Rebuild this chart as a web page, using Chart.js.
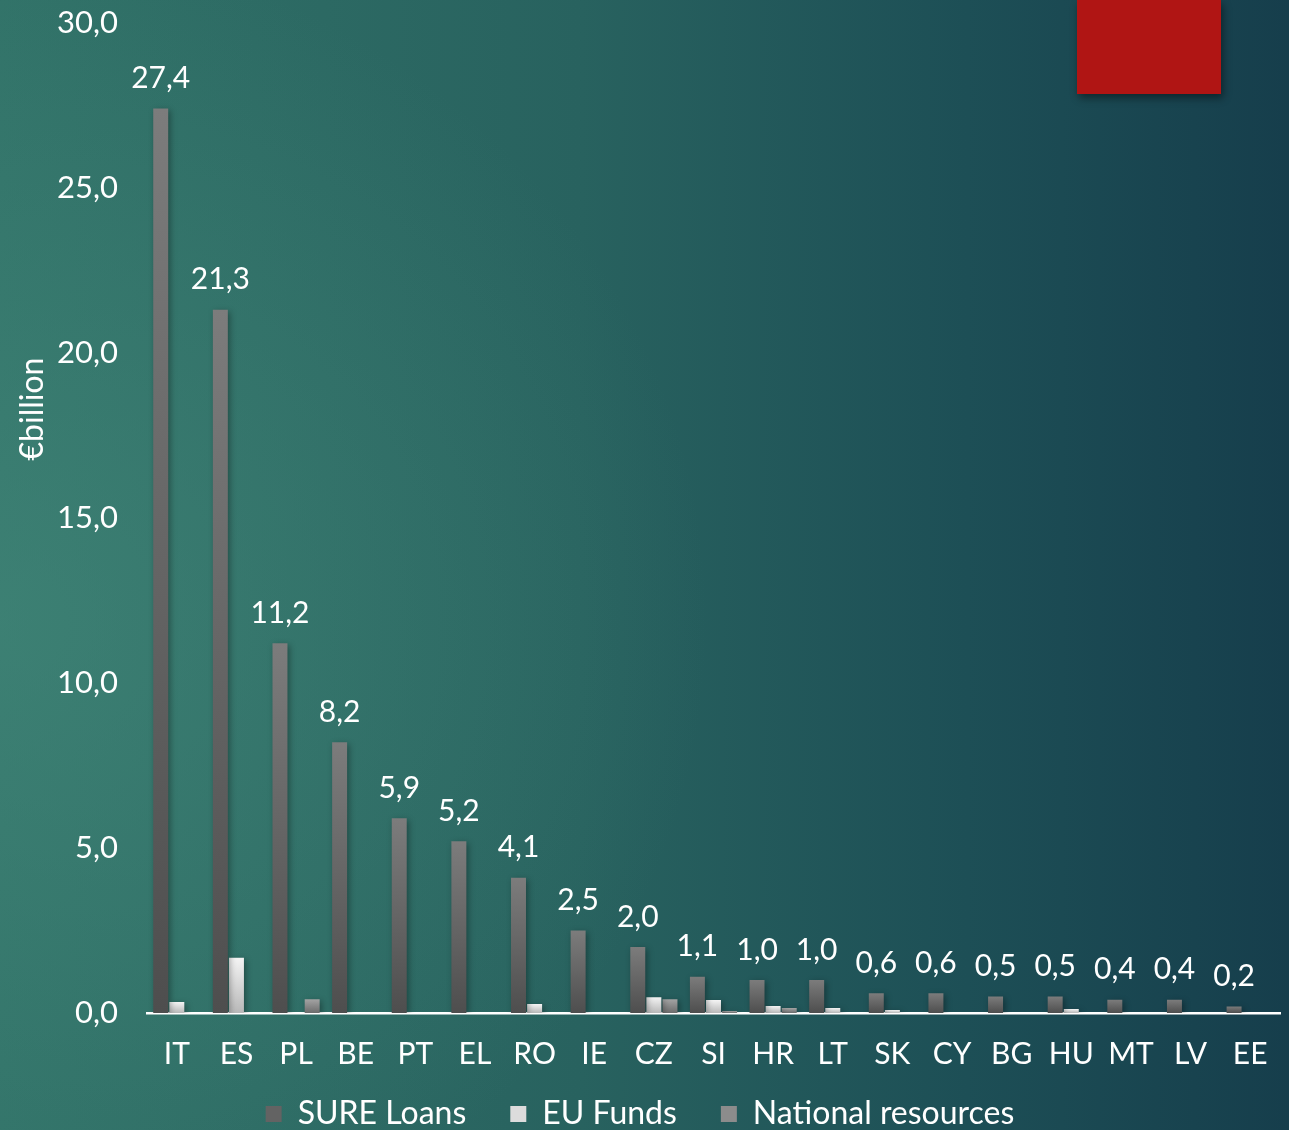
<!DOCTYPE html>
<html>
<head>
<meta charset="utf-8">
<script src="https://cdn.jsdelivr.net/npm/chart.js@4"></script>
<style>
    html, body {
        margin: 0;
        padding: 0;
        overflow: hidden;
    }
    body {
        width: 1289px;
        height: 1130px;
        position: relative;
        background:
            radial-gradient(ellipse 55% 60% at 0% 55%, rgba(70, 140, 125, 0.55) 0%, rgba(70, 140, 125, 0) 100%),
            linear-gradient(90deg, #317268 0%, #28625f 45%, #1d4f56 75%, #163e4c 100%);
    }
    .red-box {
        position: absolute;
        left: 1077px;
        top: 0;
        width: 144px;
        height: 94px;
        background: #b01514;
        box-shadow: 2px 4px 8px rgba(0, 0, 0, 0.45);
    }
    .chart-wrap {
        position: absolute;
        left: 0;
        top: -17px;
        width: 1289px;
        height: 1157px;
    }
</style>
</head>
<body>
<div class="red-box"></div>
<div class="chart-wrap"><canvas id="barChart"></canvas></div>

<script>
// Member states
const countries = ['IT', 'ES', 'PL', 'BE', 'PT', 'EL', 'RO', 'IE', 'CZ', 'SI', 'HR', 'LT', 'SK', 'CY', 'BG', 'HU', 'MT', 'LV', 'EE'];

// € billion
const sureLoans = [27.4, 21.3, 11.2, 8.2, 5.9, 5.2, 4.1, 2.5, 2.0, 1.1, 1.0, 1.0, 0.6, 0.6, 0.5, 0.5, 0.4, 0.4, 0.2];
const euFunds = [0.33, 1.67, 0, 0, 0, 0, 0.27, 0, 0.48, 0.39, 0.21, 0.15, 0.09, 0, 0, 0.12, 0, 0, 0];
const nationalResources = [0, 0, 0.42, 0, 0, 0, 0, 0, 0.42, 0.06, 0.15, 0, 0, 0, 0, 0, 0, 0, 0];

const yTicks = [0, 5, 10, 15, 20, 25, 30];

const FONT = "Lato, 'Open Sans', sans-serif";

function fmt(v) {
    return v.toFixed(1).replace('.', ',');
}

// vertical gradient per bar, from bar top to the base
function barGradient(top, bottom) {
    return function(context) {
        const chart = context.chart;
        if (!chart.chartArea || context.parsed === undefined) return bottom;
        const yScale = chart.scales.y;
        const yTop = yScale.getPixelForValue(context.parsed.y);
        const yBase = yScale.getPixelForValue(0);
        if (!isFinite(yTop) || yBase - yTop < 1) return bottom;
        const g = chart.ctx.createLinearGradient(0, yTop, 0, yBase);
        g.addColorStop(0, top);
        g.addColorStop(1, bottom);
        return g;
    };
}

// values above the SURE bars
const valueLabels = {
    id: 'valueLabels',
    afterDatasetsDraw(chart) {
        const ctx = chart.ctx;
        const meta = chart.getDatasetMeta(0);
        ctx.save();
        ctx.fillStyle = '#ffffff';
        ctx.font = '30px ' + FONT;
        ctx.textAlign = 'center';
        ctx.textBaseline = 'middle';
        meta.data.forEach((bar, i) => {
            ctx.fillText(fmt(sureLoans[i]), bar.x, bar.y - 30);
        });
        ctx.restore();
    }
};

// soft shadow under the bars
const barShadow = {
    id: 'barShadow',
    beforeDatasetsDraw(chart) {
        const ctx = chart.ctx;
        ctx.save();
        ctx.shadowColor = 'rgba(0, 0, 0, 0.35)';
        ctx.shadowBlur = 6;
        ctx.shadowOffsetX = 2;
        ctx.shadowOffsetY = 2;
    },
    afterDatasetsDraw(chart) {
        chart.ctx.restore();
    }
};

// y axis title, placed a bit above the middle like the original
// (canvas is shifted up 17px, so 426 here lands at ~409 on the page)
const yTitle = {
    id: 'yTitle',
    afterDraw(chart) {
        const ctx = chart.ctx;
        ctx.save();
        ctx.translate(33, 426);
        ctx.rotate(-Math.PI / 2);
        ctx.fillStyle = '#ffffff';
        ctx.font = '32px ' + FONT;
        ctx.textAlign = 'center';
        ctx.textBaseline = 'middle';
        ctx.fillText('€billion', 0, 0);
        ctx.restore();
    }
};

document.addEventListener('DOMContentLoaded', function() {
    const ctx = document.getElementById('barChart').getContext('2d');
    const barChart = new Chart(ctx, {
        type: 'bar',
        data: {
            labels: countries,
            datasets: [
                {
                    label: 'SURE Loans',
                    data: sureLoans,
                    backgroundColor: barGradient('#7c7c7c', '#4e4e4e'),
                    borderWidth: 0
                },
                {
                    label: 'EU Funds',
                    data: euFunds,
                    backgroundColor: barGradient('#f4f4f4', '#b8b8b8'),
                    borderWidth: 0
                },
                {
                    label: 'National resources',
                    data: nationalResources,
                    backgroundColor: barGradient('#a4a4a4', '#6c6c6c'),
                    borderWidth: 0
                }
            ]
        },
        options: {
            responsive: true,
            maintainAspectRatio: false,
            animation: false,
            layout: {
                padding: { top: 0, right: 9, left: 0, bottom: 0 }
            },
            datasets: {
                bar: {
                    categoryPercentage: 0.81,
                    barPercentage: 0.93
                }
            },
            plugins: {
                legend: {
                    position: 'bottom',
                    labels: {
                        color: '#ffffff',
                        font: { family: FONT, size: 32 },
                        boxWidth: 16,
                        boxHeight: 16,
                        padding: 44,
                        generateLabels(chart) {
                            const fills = ['#636363', '#dcdcdc', '#8c8c8c'];
                            return chart.data.datasets.map((ds, i) => ({
                                text: ds.label,
                                fillStyle: fills[i],
                                strokeStyle: fills[i],
                                lineWidth: 0,
                                fontColor: '#ffffff',
                                datasetIndex: i,
                                hidden: false
                            }));
                        }
                    }
                },
                tooltip: { enabled: false }
            },
            scales: {
                y: {
                    min: 0,
                    max: 30,
                    afterFit(scale) {
                        scale.width = 147;
                    },
                    afterBuildTicks(scale) {
                        scale.ticks = yTicks.map(v => ({ value: v }));
                    },
                    grid: { display: false },
                    border: { display: false },
                    ticks: {
                        color: '#ffffff',
                        font: { family: FONT, size: 31 },
                        padding: 21,
                        callback: function(value) {
                            return fmt(value);
                        }
                    }
                },
                x: {
                    afterFit(scale) {
                        scale.height = 41;
                        // the axis box is short here, so don't clip its labels to it
                        scale._computeLabelArea = function() { return undefined; };
                    },
                    grid: { display: false },
                    border: { display: true, color: '#ffffff', width: 2.5 },
                    ticks: {
                        color: '#ffffff',
                        font: { family: FONT, size: 30 },
                        padding: 15,
                        maxRotation: 0,
                        autoSkip: false
                    }
                }
            }
        },
        plugins: [barShadow, valueLabels, yTitle]
    });
});
</script>
</body>
</html>
